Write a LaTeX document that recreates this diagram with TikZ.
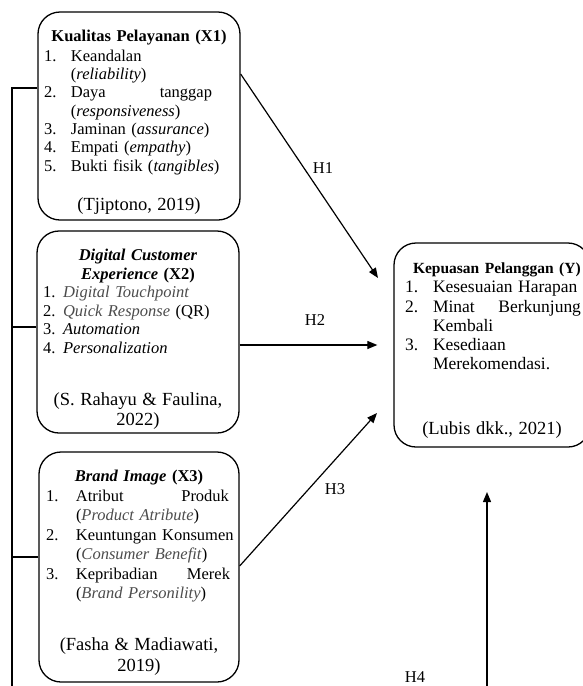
\documentclass[tikz,border=0pt]{standalone}
\usepackage{fontspec}
\setmainfont{Liberation Serif}
\usetikzlibrary{arrows.meta}
\newcommand{\itm}[3]{\par\hangindent=#1\hangafter=1\noindent\makebox[#1][l]{#2}#3\par}
\newcommand{\sumber}[1]{\par{\centering\fontsize{18.5}{20.5}\selectfont #1\par}}
\newcommand{\rata}[3]{\makebox[#1][l]{#2\hfill #3}}
\newcommand{\atas}[1]{\rule{0pt}{#1}}
\tikzset{
	>={Triangle[length=10pt,width=8pt]},
	varbox/.style={
		rectangle,
		rounded corners=22pt,
		draw=black, line width=1.3pt,
		inner sep=0pt,
		font=\fontsize{16.5}{19}\selectfont},
	hyp/.style={->, line width=1.2pt},
	bus/.style={line width=1.2pt},
	hlabel/.style={font=\fontsize{16.5}{18}\selectfont, inner sep=0pt},
}
\begin{document}
\begin{tikzpicture}[x=1pt, y=-1pt]
	\useasboundingbox (0,0) rectangle (582,686);
	% variabel
	\node[varbox, font=\fontsize{16.5}{18.3}\selectfont, minimum width=202pt, minimum height=208pt, text width=190pt] (x1) at (139,116) {%
		{\centering\atas{23.7pt}\textbf{Kualitas Pelayanan (X1)}\par}
		\vspace{1.7pt}
		\itm{27pt}{1.}{Keandalan\newline(\textit{reliability})}
		\itm{27pt}{2.}{\rata{141pt}{Daya}{tanggap}\newline(\textit{responsiveness})}
		\itm{27pt}{3.}{Jaminan (\textit{assurance})}
		\itm{27pt}{4.}{Empati (\textit{empathy})}
		\itm{27pt}{5.}{Bukti fisik (\textit{tangibles})}
		\vspace{18.7pt}
		\sumber{(Tjiptono, 2019)}
	};
	\node[varbox, font=\fontsize{16.5}{18.5}\selectfont, minimum width=202pt, minimum height=202pt, text width=190pt] (x2) at (138,332) {%
		{\centering\atas{26.7pt}\textbf{\textit{Digital Customer}\\\textit{Experience} (X2)}\par}
		\itm{20pt}{1.}{\textcolor{black!70}{\textit{Digital Touchpoint}}}
		\itm{20pt}{2.}{\textcolor{black!70}{\textit{Quick Response}} (QR)}
		\itm{20pt}{3.}{\textit{Automation}}
		\itm{20pt}{4.}{\textit{Personalization}}
		\vspace{31.5pt}
		\sumber{(S. Rahayu \& Faulina,\\2022)}
	};
	\node[varbox, font=\fontsize{16.5}{19.5}\selectfont, minimum width=200pt, minimum height=230pt, text width=186pt] (x3) at (139,567) {%
		{\centering\atas{22.7pt}\textbf{\textit{Brand Image} (X3)}\par}
		\itm{30pt}{1.}{\rata{153pt}{Atribut}{Produk}\newline(\textcolor{black!70}{\textit{Product Atribute}})}
		\itm{30pt}{2.}{\mbox{Keuntungan Konsumen}\newline(\textcolor{black!70}{\textit{Consumer Benefit}})}
		\itm{30pt}{3.}{\rata{154pt}{Kepribadian}{Merek}\newline(\textcolor{black!70}{\textit{Brand Personility}})}
		\vspace{31.5pt}
		\sumber{(Fasha \& Madiawati,\\2019)}
	};
	\node[varbox, minimum width=196pt, minimum height=204pt, text width=174pt] (y) at (492,345) {%
		\noindent\atas{21.8pt}\hspace*{8pt}\makebox[0pt][l]{\fontsize{15.5}{19}\selectfont\textbf{Kepuasan Pelanggan (Y)}}\par
		\fontsize{17.5}{19.3}\selectfont
		\itm{28pt}{1.}{Kesesuaian Harapan}
		\itm{28pt}{2.}{\rata{148pt}{Minat}{Berkunjung}\newline Kembali}
		\itm{28pt}{3.}{Kesediaan\newline Merekomendasi.}
		\vspace{44pt}
		\sumber{(Lubis dkk., 2021)}
	};
	% ujung bebas
	\coordinate (busend) at (12,700);
	\coordinate (h1end) at (378,278);
	\coordinate (h3end) at (377,413);
	\coordinate (h4start) at (487,700);
	\coordinate (h4end) at (487,492);
	% garis kiri
	\draw[bus] ([yshift=28pt]x1.west) -| (busend);
	\draw[bus] ([yshift=5pt]x2.west) -- ([yshift=5pt]x2.west -| busend);
	\draw[bus] ([yshift=10pt]x3.west) -- ([yshift=10pt]x3.west -| busend);
	% hipotesis
	\draw[hyp] ([yshift=42pt]x1.east) -- (h1end);
	\draw[hyp, shorten >=16pt] (x2.east |- y.west) -- (y.west);
	\draw[hyp] ([yshift=1pt]x3.east) -- (h3end);
	\draw[hyp] (h4start) -- (h4end);
	\node[hlabel] (h1) at (323,168) {H1};
	\node[hlabel] (h2) at (315,320) {H2};
	\node[hlabel] (h3) at (335,489) {H3};
	\node[hlabel] (h4) at (415,677) {H4};
\end{tikzpicture}
\end{document}
